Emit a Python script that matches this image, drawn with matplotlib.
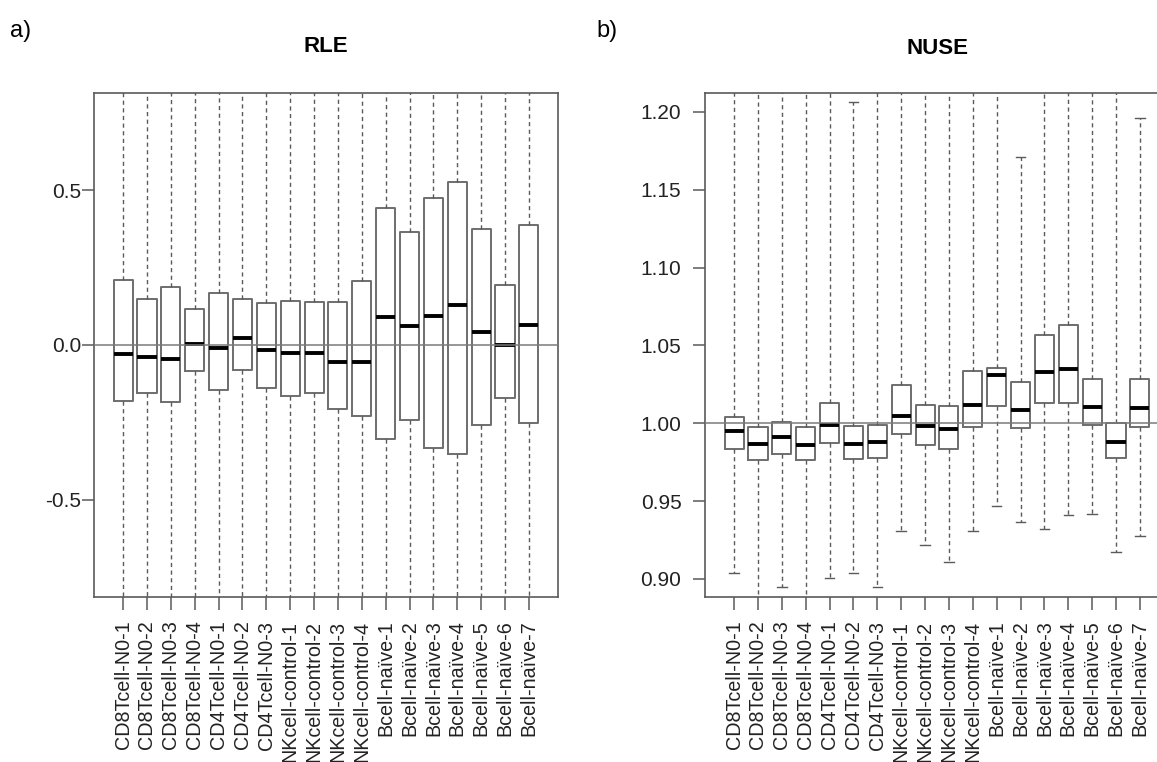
import matplotlib.pyplot as plt

plt.rcParams['font.family'] = ['Liberation Sans', 'DejaVu Sans']

# ---------------- data ----------------
samples = ["CD8Tcell-N0-1", "CD8Tcell-N0-2", "CD8Tcell-N0-3", "CD8Tcell-N0-4",
           "CD4Tcell-N0-1", "CD4Tcell-N0-2", "CD4Tcell-N0-3",
           "NKcell-control-1", "NKcell-control-2", "NKcell-control-3", "NKcell-control-4",
           "Bcell-naïve-1", "Bcell-naïve-2", "Bcell-naïve-3", "Bcell-naïve-4",
           "Bcell-naïve-5", "Bcell-naïve-6", "Bcell-naïve-7"]

# RLE boxes (whiskers run past the plotting window)
rle_q1  = [-0.181, -0.156, -0.183, -0.084, -0.144, -0.081, -0.139, -0.166, -0.156,
           -0.206, -0.230, -0.302, -0.242, -0.332, -0.352, -0.258, -0.171, -0.252]
rle_med = [-0.029, -0.038, -0.044, 0.004, -0.009, 0.024, -0.015, -0.026, -0.026,
           -0.054, -0.055, 0.091, 0.061, 0.094, 0.129, 0.042, 0.000, 0.065]
rle_q3  = [0.210, 0.148, 0.187, 0.116, 0.169, 0.149, 0.135, 0.142, 0.138,
           0.138, 0.205, 0.441, 0.365, 0.474, 0.526, 0.374, 0.194, 0.387]
rle_lo  = [-1.0, -1.0, -1.0, -1.0, -1.0, -1.0, -1.0, -1.0, -1.0,
           -1.0, -1.0, -1.0, -1.0, -1.0, -1.0, -1.0, -1.0, -1.0]
rle_hi  = [1.0, 1.0, 1.0, 1.0, 1.0, 1.0, 1.0, 1.0, 1.0,
           1.0, 1.0, 1.0, 1.0, 1.0, 1.0, 1.0, 1.0, 1.0]

# NUSE boxes
nuse_q1  = [0.9835, 0.9767, 0.9805, 0.9767, 0.9872, 0.9771, 0.9779, 0.9934, 0.9861,
            0.9837, 0.9979, 1.0113, 0.9970, 1.0128, 1.0128, 0.9989, 0.9779, 0.9979]
nuse_med = [0.9949, 0.9865, 0.9912, 0.9863, 0.9991, 0.9865, 0.9878, 1.0045, 0.9983,
            0.9966, 1.0120, 1.0310, 1.0086, 1.0330, 1.0351, 1.0105, 0.9880, 1.0099]
nuse_q3  = [1.0043, 0.9976, 1.0006, 0.9976, 1.0133, 0.9985, 0.9989, 1.0244, 1.0116,
            1.0111, 1.0338, 1.0355, 1.0263, 1.0570, 1.0630, 1.0283, 1.0000, 1.0283]
nuse_lo  = [0.9039, 0.870, 0.8951, 0.870, 0.9004, 0.9036, 0.8951, 0.9310, 0.9218,
            0.9111, 0.9306, 0.9471, 0.9368, 0.9323, 0.9409, 0.9418, 0.9176, 0.9278]
nuse_hi  = [1.25, 1.25, 1.25, 1.25, 1.25, 1.2062, 1.25, 1.25, 1.25,
            1.25, 1.25, 1.25, 1.1709, 1.25, 1.25, 1.25, 1.25, 1.1959]


def box_stats(q1, med, q3, lo, hi):
    return [dict(q1=a, med=m, q3=b, whislo=l, whishi=h, fliers=[])
            for a, m, b, l, h in zip(q1, med, q3, lo, hi)]


W, H = 1157, 762
fig = plt.figure(figsize=(W / 100, H / 100), dpi=100)
ax1 = fig.add_axes([94 / W, 165 / H, 464 / W, 504 / H])
ax2 = fig.add_axes([705 / W, 165 / H, 464 / W, 504 / H])

pos = list(range(1, len(samples) + 1))
grey = "#5a5a5a"

for ax, st, ref in [(ax1, box_stats(rle_q1, rle_med, rle_q3, rle_lo, rle_hi), 0.0),
                    (ax2, box_stats(nuse_q1, nuse_med, nuse_q3, nuse_lo, nuse_hi), 1.0)]:
    ax.axhline(ref, color="#7a7a7a", lw=1.1, zorder=3)
    ax.bxp(st, positions=pos, widths=0.8, capwidths=0.4, showfliers=False,
           manage_ticks=False,
           boxprops=dict(color="#6e6e6e", lw=1.4),
           medianprops=dict(color="black", lw=2.8, solid_capstyle="butt"),
           whiskerprops=dict(color=grey, lw=1.0, linestyle=(0, (3, 2.5))),
           capprops=dict(color=grey, lw=1.0))
    ax.set_xlim(-0.22, len(samples) + 1.22)
    ax.set_xticks(pos)
    ax.set_xticklabels(samples, rotation=90, fontsize=14.2, color="#222222")
    for sp in ax.spines.values():
        sp.set_color(grey)
        sp.set_linewidth(1.2)
    ax.tick_params(axis="both", length=9, width=1.1, color=grey, labelcolor="#222222")
    ax.tick_params(axis="x", pad=8)
    ax.tick_params(axis="y", labelsize=15)

ax1.tick_params(axis="y", pad=0)
ax2.tick_params(axis="y", pad=8)

ax1.set_ylim(-0.813, 0.813)
ax1.set_yticks([-0.5, 0.0, 0.5])
ax1.set_yticklabels(["-0.5", "0.0", "0.5"])

ax2.set_ylim(0.8884, 1.2122)
ax2.set_yticks([0.90, 0.95, 1.00, 1.05, 1.10, 1.15, 1.20])
ax2.set_yticklabels(["0.90", "0.95", "1.00", "1.05", "1.10", "1.15", "1.20"])

fig.text(326 / W, 1 - 46 / H, "RLE", ha="center", va="center", fontsize=16, fontweight="bold")
fig.text(937 / W, 1 - 48 / H, "NUSE", ha="center", va="center", fontsize=16, fontweight="bold")
fig.text(10 / W, 1 - 31 / H, "a)", ha="left", va="center", fontsize=17)
fig.text(596 / W, 1 - 31 / H, "b)", ha="left", va="center", fontsize=17)

fig.savefig("out.png", dpi=100)
